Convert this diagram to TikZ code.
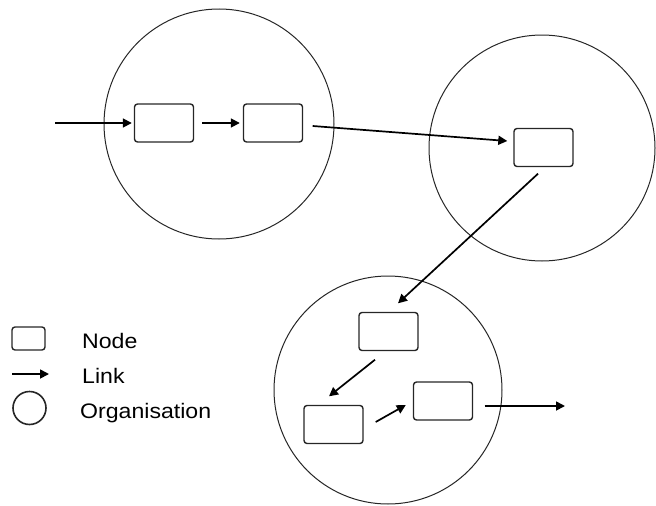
\documentclass[tikz,border=0pt]{standalone}
\usepackage{fontspec}
\setmainfont{Liberation Sans}[FakeStretch=1.1]
\usetikzlibrary{arrows.meta,calc}
\begin{document}
\begin{tikzpicture}[x=1pt,y=-1pt,
  org/.style={draw=black!85,line width=1pt},
  nodebox/.style={draw=black!85,line width=1.4pt,rounded corners=3pt,minimum width=59pt,minimum height=38pt,inner sep=0pt},
  link/.style={line width=1.7pt,-{Triangle[length=9pt,width=9pt]}},
  lbl/.style={anchor=base west,inner sep=0pt,font=\fontsize{21}{25}\selectfont}]
\useasboundingbox (0,0) rectangle (656,506);
% organisations
\node[org,circle,minimum size=230pt,inner sep=0pt] (o1) at (219,124) {};
\node[org,circle,minimum size=226pt,inner sep=0pt] (o2) at (542,148) {};
\node[org,circle,minimum size=228pt,inner sep=0pt] (o3) at (388,390) {};
% nodes
\node[nodebox] (a) at (164,123) {};
\node[nodebox] (b) at (273,123) {};
\node[nodebox] (c) at (543.5,147.5) {};
\node[nodebox] (d) at (388.5,331.5) {};
\node[nodebox] (e) at (333.5,424.5) {};
\node[nodebox] (f) at (443,401) {};
% connectors
\coordinate (in) at (55,123);
\coordinate (out) at (565,406);
\draw[link] (in) -- ($(a.west)+(-2,0)$);
\draw[link] ($(a.east)+(8,0)$) -- ($(b.west)+(-3,0)$);
\draw[link] ($(b.east)+(9.5,3)$) -- ($(c.west)+(-6,-6.5)$);
\draw[link] ($(c.south)+(-5.5,6.5)$) -- ($(d.north)+(9.5,-8.5)$);
\draw[link] ($(d.south)+(-13.5,8.5)$) -- ($(e.north)+(-4.5,-8.5)$);
\draw[link] ($(e.east)+(12,-2.5)$) -- ($(f.west)+(-7,4)$);
\draw[link] ($(f.east)+(11.5,5)$) -- (out);
% legend
\node[nodebox,minimum width=33pt,minimum height=23pt] (lnode) at (28.5,338.5) {};
\coordinate (ls) at (12,374);
\coordinate (le) at (49,374);
\draw[link] (ls) -- (le);
\node[org,circle,line width=1.6pt,minimum size=33pt,inner sep=0pt] (lorg) at (29.5,408) {};
\node[lbl] (t1) at (82,348) {Node};
\node[lbl] (t2) at (82,383) {Link};
\node[lbl] (t3) at (80,418) {Organisation};
\end{tikzpicture}
\end{document}
